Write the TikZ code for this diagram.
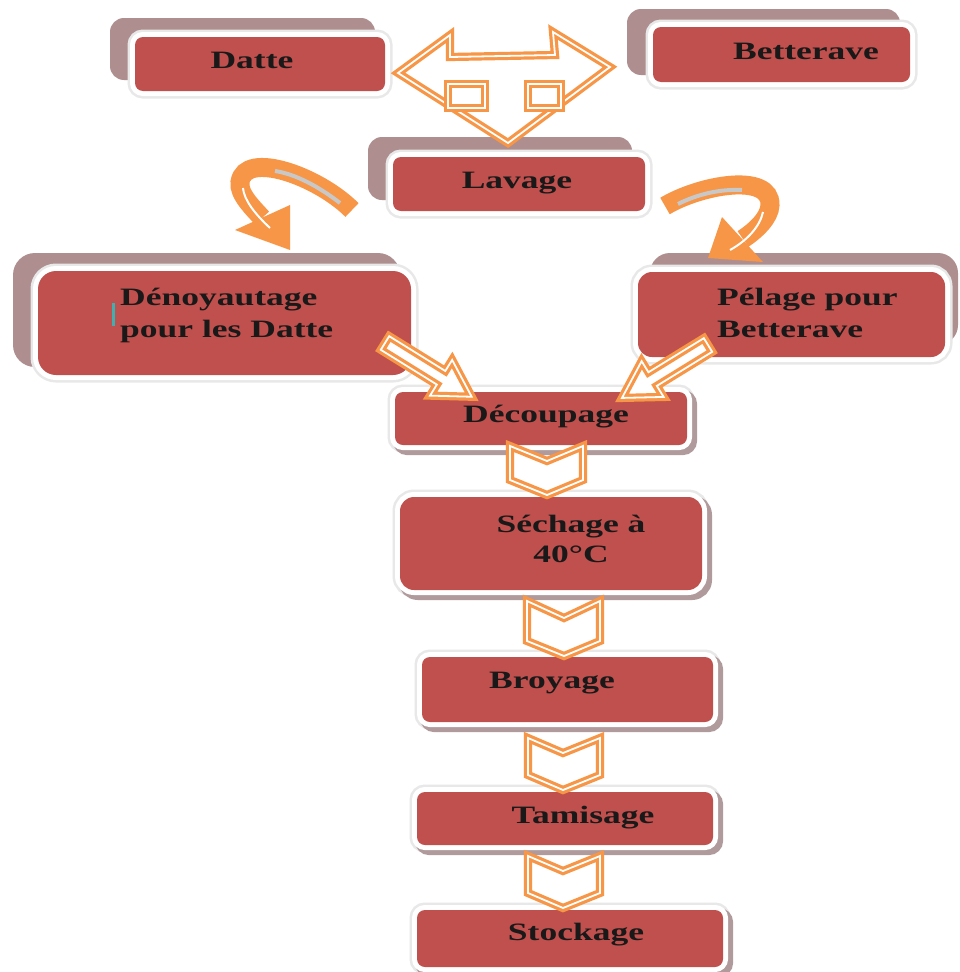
\documentclass[tikz,border=0pt]{standalone}
\usepackage{fontspec}
\newfontfamily\boxfont{Liberation Serif}[BoldFeatures={FakeStretch=1.42}]
\definecolor{boxred}{HTML}{C0504D}
\definecolor{panelc}{HTML}{AE8E8E}
\definecolor{shadc}{HTML}{B09A9C}
\definecolor{glowc}{HTML}{E8E8E8}
\definecolor{orangec}{HTML}{F79646}
\definecolor{grayc}{HTML}{C8C8C8}
\definecolor{tealc}{HTML}{3FAFAF}
\tikzset{
  panel/.style={rectangle, rounded corners=#1, fill=panelc, inner sep=0pt},
  panel/.default=14pt,
  box/.style={rectangle, rounded corners=#1, fill=boxred, inner sep=0pt,
    preaction={draw=glowc, line width=15pt},
    preaction={draw=white, line width=10pt}},
  box/.default=8pt,
  sbox/.style={rectangle, rounded corners=#1, fill=boxred, inner sep=0pt,
    preaction={draw=glowc, line width=15pt},
    preaction={draw=shadc, line width=12pt, transform canvas={shift={(4pt,-4pt)}}},
    preaction={draw=white, line width=10pt}},
  sbox/.default=8pt,
  lbl/.style={font=\boxfont\bfseries\fontsize{25}{32}\selectfont, text=black!90, inner sep=0pt, anchor=base},
  arrowline/.style={draw=orangec, line width=3.2pt, double=white, double distance=1.8pt, line join=miter},
  band/.style={draw=orangec, line width=19pt, line cap=butt},
}
\newcommand\blockarrow[4]{\begin{scope}[shift={(#1,#2)},rotate=#3]
  \path[arrowline, fill=white] (0,-8) -- ({#4-36},-8) -- ({#4-36},-21) -- (#4,0) -- ({#4-36},21) -- ({#4-36},8) -- (0,8) -- cycle;
\end{scope}}
\begin{document}
\begin{tikzpicture}[x=1pt,y=-1pt]
\useasboundingbox (0,0) rectangle (960,972);
\fill[white] (0,0) rectangle (960,972);

% back panels
\node[panel, minimum width=265pt, minimum height=62pt] (pDatte) at (242.5,49) {};
\node[panel, minimum width=273pt, minimum height=66pt] (pBett) at (763.5,42) {};
\node[panel, minimum width=264pt, minimum height=63pt] (pLav) at (500,168.5) {};
\node[panel=22pt, minimum width=387pt, minimum height=114pt] (pDeno) at (206.5,310) {};
\node[panel=20pt, minimum width=308pt, minimum height=92pt] (pPel) at (804,299) {};

% boxes
\node[box, minimum width=250pt, minimum height=54pt] (bDatte) at (260,64) {};
\node[box, minimum width=257pt, minimum height=55pt] (bBett) at (781.5,54.5) {};
\node[box, minimum width=252pt, minimum height=54pt] (bLav) at (519,184) {};
\node[box=18pt, minimum width=373pt, minimum height=104pt] (bDeno) at (224.5,323) {};
\node[box=14pt, minimum width=307pt, minimum height=85pt] (bPel) at (791.5,314.5) {};
\node[sbox, minimum width=292pt, minimum height=53pt] (bDec) at (541,418.5) {};
\node[sbox=14pt, minimum width=302pt, minimum height=93pt] (bSech) at (551,543.5) {};
\node[sbox, minimum width=291pt, minimum height=65pt] (bBroy) at (567.5,689.5) {};
\node[sbox, minimum width=296pt, minimum height=53pt] (bTam) at (565,818.5) {};
\node[sbox, minimum width=306pt, minimum height=57pt] (bStock) at (570,938.5) {};

% chevrons
\path[arrowline, fill=white] (510,446) -- (547,461) -- (583,446) -- (583,480) -- (547,495) -- (510,480) -- cycle;
\path[arrowline, fill=white] (527,601) -- (564,618) -- (600,601) -- (600,641) -- (564,656) -- (527,641) -- cycle;
\path[arrowline, fill=white] (528,738) -- (563,753) -- (600,738) -- (600,775) -- (563,790) -- (528,775) -- cycle;
\path[arrowline, fill=white] (528,856) -- (563,871) -- (600,856) -- (600,893) -- (563,908) -- (528,893) -- cycle;

% three-way arrow
\path[arrowline, fill=white] (398,73) -- (450,35) -- (450,57) -- (555,55) -- (553,32) -- (610,67) -- (508,143) -- cycle;
\path[arrowline, fill=white] (448,84) rectangle (485,108);
\path[arrowline, fill=white] (528,84) rectangle (561,108);

% diagonal arrows
\blockarrow{385}{343}{-31.8}{102}
\blockarrow{708}{345}{-148.4}{101}

% curved arrows
\draw[band] (352,210) .. controls (318,176) and (245,150) .. (240,182) .. controls (238,194) and (254,209) .. (262,218);
\fill[orangec] (235,230) -- (290,205) -- (290,250) -- cycle;
\draw[grayc, line width=4pt] (340,203) .. controls (318,186) and (295,174) .. (275,171);
\draw[white, line width=2pt] (243,188) .. controls (244,200) and (255,214) .. (270,228);

\draw[band] (665,206) .. controls (700,185) and (771,172) .. (770,205) .. controls (769.6,218) and (755,231) .. (743,239);
\fill[orangec] (722,217) -- (763,262) -- (708,258) -- cycle;
\draw[grayc, line width=4pt] (678,204) .. controls (698,194) and (720,189) .. (742,190);
\draw[white, line width=2pt] (763,212) .. controls (760,226) and (748,240) .. (730,250);

% cursor mark
\fill[tealc] (111.5,303) rectangle (114.5,326);

% labels
\node[lbl] (tDatte) at (252,68) {Datte};
\node[lbl] (tBett) at (806,59) {Betterave};
\node[lbl] (tLav) at (517,188) {Lavage};
\node[lbl, anchor=base west] (tDeno) at (120,305) {\vtop{\hbox{Dénoyautage}\hbox{pour les Datte}}};
\node[lbl, anchor=base west] (tPel) at (717,305) {\vtop{\hbox{Pélage pour}\hbox{Betterave}}};
\node[lbl] (tDec) at (546,422) {Découpage};
\node[lbl] (tSech) at (571,532) {\vtop{\baselineskip=30pt\hbox to 0pt{\hss Séchage à\hss}\hbox to 0pt{\hss 40°C\hss}}};
\node[lbl] (tBroy) at (552,688) {Broyage};
\node[lbl] (tTam) at (583,823) {Tamisage};
\node[lbl] (tStock) at (576,940) {Stockage};
\end{tikzpicture}
\end{document}
